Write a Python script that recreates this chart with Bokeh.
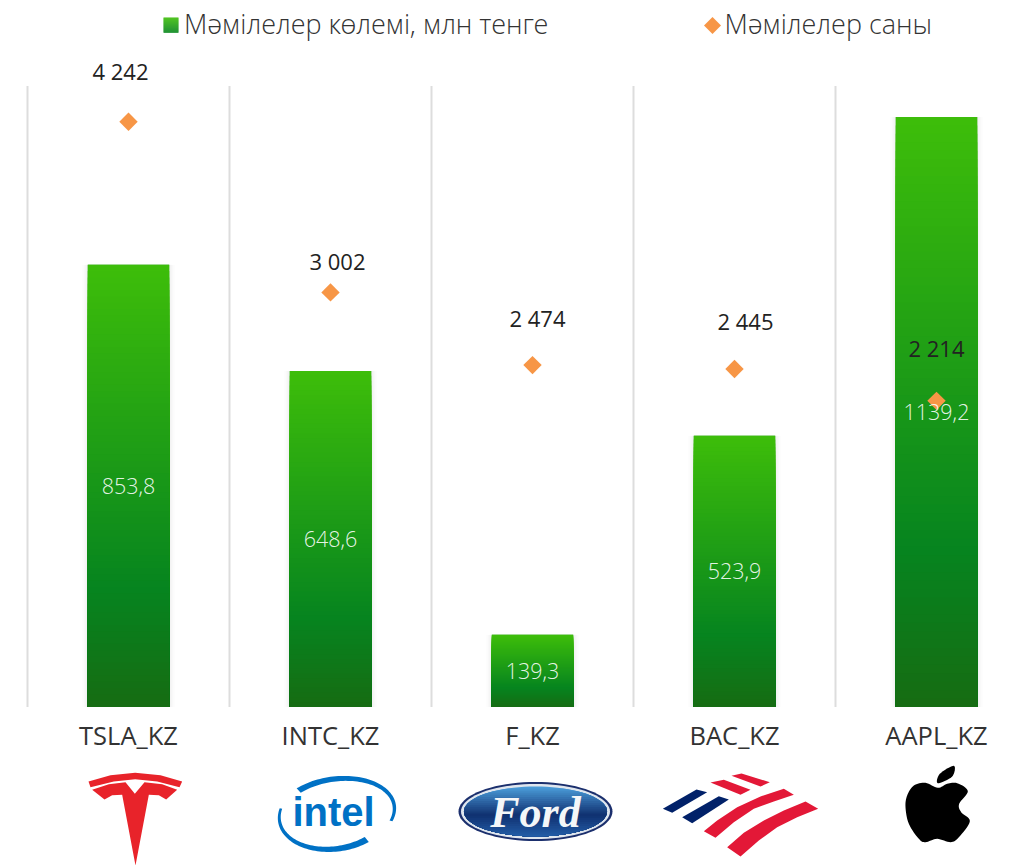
import math
from bokeh.plotting import figure
from bokeh.embed import file_html
from bokeh.resources import INLINE
from bokeh.core.properties import value
from bokeh.models import (ColumnDataSource, Range1d, LinearAxis, FixedTicker, LabelSet,
                          Legend, LegendItem)

tickers = ["TSLA_KZ", "INTC_KZ", "F_KZ", "BAC_KZ", "AAPL_KZ"]
volumes = [853.8, 648.6, 139.3, 523.9, 1139.2]
deals = [4242, 3002, 2474, 2445, 2214]
volume_labels = ["853,8", "648,6", "139,3", "523,9", "1139,2"]
deal_labels = ["4 242", "3 002", "2 474", "2 445", "2 214"]
legend_labels = ["Мәмілелер көлемі, млн тенге", "Мәмілелер саны"]
label_dx = [-8, 7, 5, 11, 0]
label_dy = [51, 31, 47, 48, 53]

FONT = "Open Sans"
LIGHT = "Open Sans Light, Open Sans"
TXT = "#333333"
positions = [i + 0.5 for i in range(len(tickers))]


def lerp(a, b, t):
    return tuple(a[i] + (b[i] - a[i]) * t for i in range(3))


def hexc(c):
    return "#%02x%02x%02x" % tuple(int(round(v)) for v in c)


def grad(t):
    top, mid, bot = (61, 189, 10), (6, 132, 31), (23, 107, 18)
    return hexc(lerp(mid, top, (t - .27) / .73)) if t > .27 else hexc(lerp(bot, mid, t / .27))


PXV = 621 / 1199
PXD = 621 / 4513
p = figure(width=1036, height=865, output_backend="svg", toolbar_location=None,
           x_range=Range1d(-27 / 202, 1009 / 202), y_range=Range1d(-158.5 / PXV, 706.5 / PXV),
           x_axis_location=None, y_axis_location=None,
           min_border_left=0, min_border_right=0, min_border_top=0, min_border_bottom=0,
           outline_line_color=None, margin=(0, 0, 0, 0))
p.extra_y_ranges = {"count": Range1d(-160 / PXD, 705 / PXD), "py": Range1d(865, 0)}
p.extra_x_ranges = {"px": Range1d(0, 1036)}
p.grid.visible = False
p.background_fill_color = None
p.border_fill_color = None

xaxis = LinearAxis(ticker=FixedTicker(ticks=positions), fixed_location=0,
                   major_label_overrides={pos: t for pos, t in zip(positions, tickers)},
                   axis_line_color=None, major_tick_line_color=None, minor_tick_line_color=None,
                   major_label_text_font=FONT, major_label_text_font_size="25.5px",
                   major_label_text_color=TXT, major_label_standoff=5)
p.add_layout(xaxis, "below")

grid_x = list(range(len(tickers) + 1))
p.segment(x0=grid_x, x1=grid_x, y0=[0] * len(grid_x), y1=[621 / PXV] * len(grid_x),
          line_color="#dddddd", line_width=2)

# soft bar shadow
for w, a in [(0.46, 0.012), (0.44, 0.016), (0.425, 0.02)]:
    p.vbar(x=positions, top=volumes, width=w, bottom=0, fill_color="#000000", fill_alpha=a, line_color=None)

bars = p.vbar(x=positions, top=volumes, width=0.403, bottom=0, fill_color="#1fa015", line_color=None)

# vertical gradient: nested bars, tallest first, each a share of its bar's own value
n = 70
gx, gt, gc = [], [], []
for k in range(n, 0, -1):
    f = k / n
    for pos, v in zip(positions, volumes):
        gx.append(pos); gt.append(v * f); gc.append(grad(f))
p.vbar(x="x", top="t", width=0.403, bottom=0, fill_color="c", line_color=None,
       source=ColumnDataSource(dict(x=gx, t=gt, c=gc)))

dm = p.scatter(x=positions, y=deals, y_range_name="count", marker="square", size=13,
               angle=math.pi / 4, fill_color="#f79646", line_color=None)

src = ColumnDataSource(dict(x=positions, v=[v / 2 for v in volumes], vl=volume_labels,
                            d=deals, dl=deal_labels, dx=label_dx, dy=label_dy))
p.add_layout(LabelSet(x="x", y="d", text="dl", y_range_name="count", x_offset="dx", y_offset="dy",
                      source=src, text_align="center", text_baseline="middle",
                      text_font=value(FONT), text_font_size="22px", text_color="#222222"))
p.add_layout(LabelSet(x="x", y="v", text="vl", source=src, text_align="center", text_baseline="middle",
                      text_font=value(LIGHT), text_font_size="21.5px", text_color="#ffffff", text_alpha=0.9))

# transparent keys: the gradient swatch and the diamond are drawn beneath them
key_bar = p.vbar(x=positions, top=volumes, width=0.403, bottom=0, fill_alpha=0, line_alpha=0)
key_dm = p.scatter(x=positions, y=deals, y_range_name="count", marker="square", size=13, fill_alpha=0, line_alpha=0)
legend = Legend(items=[LegendItem(label=legend_labels[0], renderers=[key_bar]),
                       LegendItem(label=legend_labels[1], renderers=[key_dm])],
                orientation="horizontal", location=(163, 823), padding=0, margin=0, spacing=155,
                glyph_width=16, glyph_height=16, label_standoff=5, background_fill_alpha=0,
                border_line_color=None, label_text_font=LIGHT, label_text_font_size="27px",
                label_text_color=TXT)
p.add_layout(legend)


# ---- logos and legend swatch (decoration, traced in page pixels)
def draw(pts, color):
    p.patch([q[0] for q in pts], [q[1] for q in pts], fill_color=color, line_color=None,
            x_range_name="px", y_range_name="py", level="overlay")


for i in range(15):
    y = 17 + i
    draw([(163, y), (178, y), (178, y + 1.3), (163, y + 1.3)], grad(1 - i / 15 * .73))
draw([(712, 16.5), (720.5, 25), (712, 33.5), (703.5, 25)], "#f79646")


def z(pts, ox, oy):
    return [(x / 3 + ox, y / 3 + oy) for x, y in pts]


def smooth(pts, steps=8):
    out = []
    m = len(pts)
    for i in range(m):
        a, b, c, d = pts[i - 1], pts[i], pts[(i + 1) % m], pts[(i + 2) % m]
        for s in range(steps):
            t = s / steps
            q = [0.5 * ((2 * b[j]) + (c[j] - a[j]) * t + (2 * a[j] - 5 * b[j] + 4 * c[j] - d[j]) * t * t
                        + (3 * b[j] - a[j] - 3 * c[j] + d[j]) * t ** 3) for j in (0, 1)]
            out.append(tuple(q))
    return out


def arc_ring(cx, cy, rx, ry, w, a0, a1, tilt=0.0, w2=None):
    w2 = w if w2 is None else w2
    outer, inner = [], []
    N = 60
    ct, st = math.cos(tilt), math.sin(tilt)
    for i in range(N + 1):
        t = i / N
        ang = math.radians(a0 + (a1 - a0) * t)
        ww = w + (w2 - w) * t
        for lst, rr in ((outer, 0), (inner, ww)):
            x, y = (rx - rr) * math.cos(ang), (ry - rr) * math.sin(ang)
            lst.append((cx + x * ct - y * st, cy + x * st + y * ct))
    return outer + inner[::-1]


def ptext(x, y, s, font, style, size, color):
    p.text([x], [y], text=[s], text_font=value(font), text_font_style=style, text_font_size=size,
           text_color=color, text_align="center", text_baseline="middle",
           x_range_name="px", y_range_name="py", level="overlay")


# Tesla
RED = "#e8232a"
draw(z([(264, 243), (330, 224), (404, 217), (480, 224), (545, 243), (537, 260), (470, 243), (404, 236), (340, 243), (270, 260)], 0, 700), RED)
draw(z([(275, 268), (325, 251), (375, 245), (403, 280), (432, 245), (485, 251), (530, 268), (497, 297), (475, 284), (445, 283),
        (405, 495), (365, 283), (335, 284), (312, 297)], 0, 700), RED)

# Intel
BLUE = "#0071c5"
draw(arc_ring(335, 813, 61, 37, 6, 235, 385, tilt=math.radians(-8), w2=3), BLUE)
draw(arc_ring(335, 813, 58, 38, 2.5, 200, 60, tilt=math.radians(-8), w2=6.5), BLUE)
ptext(333, 811, "intel", "Liberation Sans", "bold", "40px", BLUE)

# Ford
cx, cy, rx, ry = 535, 811, 71.5, 25
draw([(cx + 77 * math.cos(a / 40 * math.pi), cy + 29.5 * math.sin(a / 40 * math.pi)) for a in range(80)], "#1b2f6d")
draw([(cx + 74.5 * math.cos(a / 40 * math.pi), cy + 27.5 * math.sin(a / 40 * math.pi)) for a in range(80)], "#dfe6ee")
levels = 24
for k in range(levels):
    yl = cy - ry + 2 * ry * k / levels
    tv = k / levels
    col = hexc(lerp((74, 155, 216), (16, 48, 112), tv / .55)) if tv < .55 else hexc(lerp((16, 48, 112), (36, 96, 170), (tv - .55) / .45))
    pts = []
    for i in range(81):
        a = math.pi * 2 * i / 80
        pts.append((cx + rx * math.cos(a), max(cy + ry * math.sin(a), yl)))
    draw(pts, col)
ptext(535, 812, "Ford", "Liberation Serif", "bold italic", "44px", "#f4f6f8")

# Bank of America
NAVY, BRED = "#012169", "#e31837"
for pts in ([(427, 325), (528, 267), (560, 275), (455, 337)], [(485, 350), (595, 287), (625, 297), (515, 368)]):
    draw(z(pts, 520, 700), NAVY)
for pts in ([(570, 246), (610, 238), (690, 268), (660, 283)], [(633, 226), (663, 219), (748, 245), (720, 258)],
            [(550, 392), (590, 360), (650, 320), (720, 288), (790, 265), (820, 283), (760, 303), (700, 325), (640, 365), (585, 412)],
            [(620, 440), (670, 397), (730, 360), (790, 330), (855, 303), (893, 325), (830, 350), (770, 380), (715, 420), (660, 468)]):
    draw(z(pts, 520, 700), BRED)

# Apple
draw(smooth(z([(1252, 262), (1215, 247), (1180, 255), (1160, 285), (1155, 320), (1165, 370), (1195, 415), (1215, 425),
               (1250, 415), (1290, 425), (1315, 410), (1348, 362), (1322, 335), (1316, 310), (1342, 272), (1310, 248), (1280, 250)], 520, 700)), "#000000")
draw(smooth(z([(1252, 248), (1258, 220), (1300, 196), (1295, 228)], 520, 700)), "#000000")

open("out.html", "w").write(file_html(p, INLINE))
